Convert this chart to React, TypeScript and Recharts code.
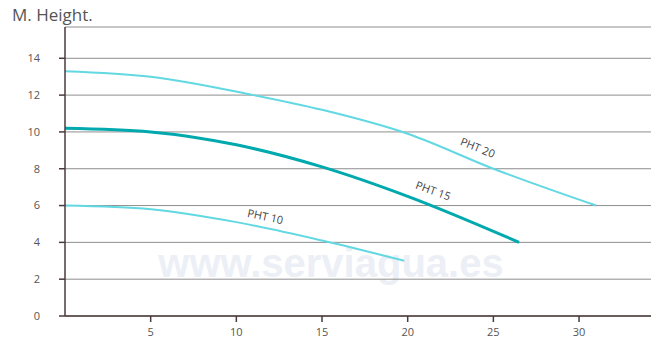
import React from "react";
import { LineChart, Line, XAxis, YAxis, CartesianGrid, ReferenceDot } from "recharts";

const pht20 = [
  { x: 0, y: 13.3 },
  { x: 5, y: 13.0 },
  { x: 11, y: 12.0 },
  { x: 15, y: 11.2 },
  { x: 20, y: 9.9 },
  { x: 25, y: 8.0 },
  { x: 31, y: 6.0 },
];
const pht15 = [
  { x: 0, y: 10.2 },
  { x: 5, y: 10.0 },
  { x: 10, y: 9.3 },
  { x: 15, y: 8.1 },
  { x: 20, y: 6.5 },
  { x: 26.5, y: 4.0 },
];
const pht10 = [
  { x: 0, y: 6.0 },
  { x: 5, y: 5.8 },
  { x: 10, y: 5.1 },
  { x: 15, y: 4.1 },
  { x: 19.8, y: 3.0 },
];
const xTicks = [5, 10, 15, 20, 25, 30];
const yTicks = [0, 2, 4, 6, 8, 10, 12, 14];
const seriesLabels = [
  { text: "PHT 20", x: 24.1, y: 9.17, angle: 22 },
  { text: "PHT 15", x: 21.5, y: 6.83, angle: 20 },
  { text: "PHT 10", x: 11.7, y: 5.43, angle: 12 },
];
const title = "M. Height.";
const watermark = "www.serviagua.es";

const FONT = "'Open Sans', 'DejaVu Sans', sans-serif";

export default function App() {
  return (
    <div style={{ position: "absolute", left: 0, top: 0, width: 661, height: 353, background: "#fff" }}>
      <div
        style={{
          position: "absolute",
          left: 131,
          top: 243,
          width: 400,
          lineHeight: "40px",
          textAlign: "center",
          fontFamily: "'Liberation Sans', Arial, sans-serif",
          fontWeight: "bold",
          fontSize: 40,
          color: "#eceff6",
          zIndex: 0,
          whiteSpace: "nowrap",
        }}
      >
        {watermark}
      </div>
      <div
        style={{
          position: "absolute",
          left: 12,
          top: 3,
          fontFamily: FONT,
          fontSize: 17,
          color: "#555",
          zIndex: 1,
        }}
      >
        {title}
      </div>
      <div style={{ position: "absolute", left: 0, top: 0, zIndex: 2 }}>
        <LineChart
          width={661}
          height={353}
          margin={{ top: 27, right: 10, left: 0, bottom: 0 }}
        >
          <CartesianGrid vertical={false} stroke="#8e8e8e" strokeWidth={1} />
          <XAxis
            dataKey="x"
            type="number"
            domain={[0, 34.2]}
            ticks={xTicks}
            allowDataOverflow
            height={37}
            tickSize={6}
            tickMargin={6}
            stroke="#4a3a3a"
            strokeWidth={1.5}
            tick={{ fill: "#555", fontSize: 11, fontFamily: FONT }}
          />
          <YAxis
            type="number"
            domain={[0, 15.7]}
            ticks={yTicks}
            allowDataOverflow
            width={65}
            tickSize={6}
            tickMargin={19}
            stroke="#4a3a3a"
            strokeWidth={1.5}
            tick={{ fill: "#555", fontSize: 11, fontFamily: FONT }}
          />
          <Line
            data={pht20}
            dataKey="y"
            type="monotone"
            stroke="#62d8e2"
            strokeWidth={2}
            dot={false}
            isAnimationActive={false}
          />
          <Line
            data={pht15}
            dataKey="y"
            type="monotone"
            stroke="#00a9ad"
            strokeWidth={3}
            dot={false}
            isAnimationActive={false}
          />
          <Line
            data={pht10}
            dataKey="y"
            type="monotone"
            stroke="#62d8e2"
            strokeWidth={2}
            dot={false}
            isAnimationActive={false}
          />
          {seriesLabels.map((l) => (
            <ReferenceDot
              key={l.text}
              x={l.x}
              y={l.y}
              r={0}
              label={(props: any) => {
                const vb = props.viewBox || {};
                return (
                  <text
                    x={vb.x}
                    y={vb.y}
                    textAnchor="middle"
                    dominantBaseline="central"
                    fontFamily={FONT}
                    fontSize={11}
                    fill="#444"
                    transform={`rotate(${l.angle} ${vb.x} ${vb.y})`}
                  >
                    {l.text}
                  </text>
                );
              }}
            />
          ))}
        </LineChart>
      </div>
    </div>
  );
}
